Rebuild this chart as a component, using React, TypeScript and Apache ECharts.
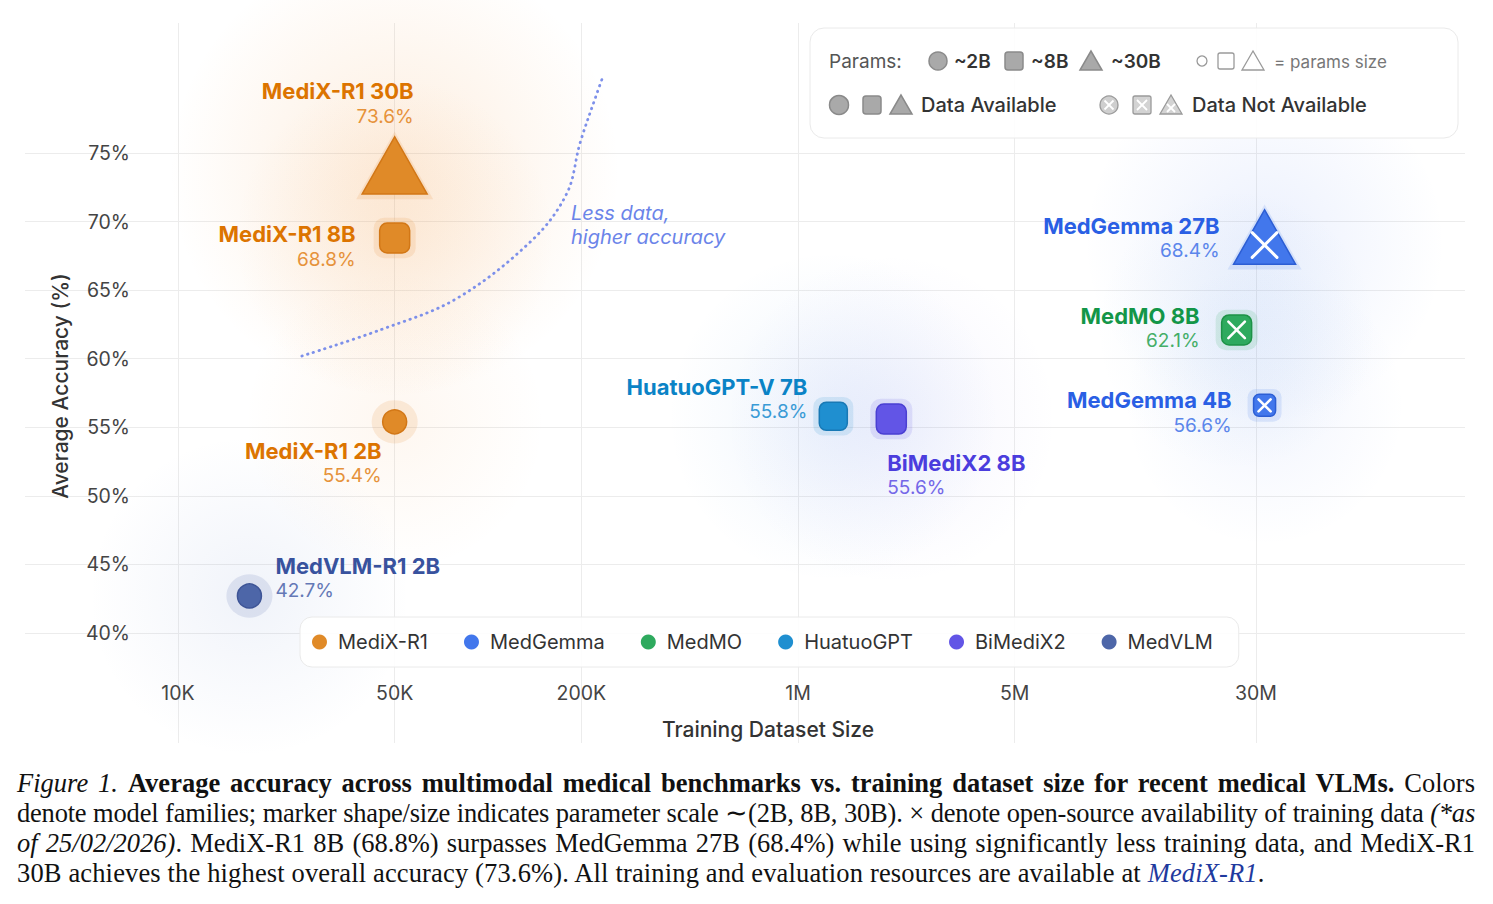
import React, { useEffect, useRef } from 'react';
import * as echarts from 'echarts';

const FONT = "Inter, 'Noto Sans', 'DejaVu Sans', sans-serif";

// ---- Families ----
const FAMILIES = ['MediX-R1', 'MedGemma', 'MedMO', 'HuatuoGPT', 'BiMediX2', 'MedVLM'];
const FAMILY_COLORS = ['#E08A28', '#4277EC', '#2EAA5E', '#1F8FD0', '#6255E6', '#4D66A8'];
const FAMILY_BORDER = ['#D27716', '#2C5ED4', '#1D9246', '#1879B5', '#4A3FD2', '#3D5496'];
const NAME_COLORS = ['#DC7400', '#2A5FE4', '#139648', '#0A83C6', '#4B3DDD', '#38529E'];
const VALUE_COLORS = ['#E6923A', '#5B86EB', '#44AE68', '#3A9BD6', '#7467E8', '#6478B6'];
const GLOW_RGB = ['242,150,60', '80,125,240', '80,150,215', '60,140,225', '110,100,235', '110,140,205'];

// ---- Models ----
const MODELS = ['MediX-R1 30B', 'MediX-R1 8B', 'MediX-R1 2B', 'MedVLM-R1 2B', 'HuatuoGPT-V 7B', 'BiMediX2 8B', 'MedGemma 27B', 'MedMO 8B', 'MedGemma 4B'];
const MODEL_FAMILY = [0, 0, 0, 5, 3, 4, 1, 2, 1];
const DATASET_SIZE = [50000, 50000, 50000, 17000, 1300000, 2000000, 32000000, 26000000, 32000000];
const ACCURACY = [73.6, 68.8, 55.4, 42.7, 55.8, 55.6, 68.4, 62.1, 56.6];
const PARAMS_B = [30, 8, 2, 2, 7, 8, 27, 8, 4];
const DATA_AVAILABLE = [true, true, true, true, true, true, false, false, false];

// ---- Axis ticks ----
const X_TICKS = [10000, 50000, 200000, 1000000, 5000000, 30000000];
const Y_TICKS = [40, 45, 50, 55, 60, 65, 70, 75];

// ---- "Less data, higher accuracy" guide curve ----
const CURVE_X = [25100, 44900, 79400, 139600, 180000, 198000, 225000, 236000];
const CURVE_Y = [60.2, 62.1, 64.4, 68.7, 72.1, 75.7, 79.4, 80.7];

// ---- label layout (style only) ----
const LABEL_LAYOUT = [
  { align: 'right', dx: 19, dy: -68.5 },
  { align: 'right', dx: -39, dy: 8.5 },
  { align: 'right', dx: -13, dy: 41.5 },
  { align: 'left', dx: 26, dy: -17.5 },
  { align: 'right', dx: -26, dy: -17 },
  { align: 'left', dx: -4, dy: 56 },
  { align: 'right', dx: -45, dy: -5.5 },
  { align: 'right', dx: -37, dy: -1.5 },
  { align: 'right', dx: -33, dy: 7.5 },
];
const GLOW_STYLE = [
  { size: 450, a: 0.17 },
  { size: 320, a: 0.1 },
  { size: 300, a: 0.075 },
  { size: 320, a: 0.1 },
  { size: 330, a: 0.09 },
  { size: 330, a: 0.075 },
  { size: 360, a: 0.11 },
  { size: 280, a: 0.075 },
  { size: 280, a: 0.075 },
];

function shapeOf(p: number) {
  if (p <= 3) return 'circle';
  if (p <= 12) return 'roundRect';
  return 'triangle';
}
function sizeOf(p: number): number[] {
  const s = shapeOf(p);
  if (s === 'circle') return [24, 24];
  if (s === 'roundRect') return [14 + 2 * p, 14 + 2 * p];
  const w = p + 35;
  return [w, w * 0.88];
}
function offsetOf(p: number) {
  const s = shapeOf(p);
  if (s === 'triangle') return [0, -sizeOf(p)[1] * 0.12];
  return [0, 0];
}

function radial(rgb: string, a: number) {
  return {
    type: 'radial', x: 0.5, y: 0.5, r: 0.5,
    colorStops: [
      { offset: 0, color: `rgba(${rgb},${a})` },
      { offset: 0.45, color: `rgba(${rgb},${a * 0.55})` },
      { offset: 1, color: `rgba(${rgb},0)` },
    ],
  };
}

function txt(text: string, x: number, y: number, size: number, fill: string, weight: any = 'normal') {
  return {
    type: 'text', x, y, z: 101,
    style: { text, fontSize: size, fill, fontWeight: weight, fontFamily: FONT, verticalAlign: 'middle', align: 'left' },
  };
}
function cross(cx: number, cy: number, h: number, color = '#ffffff', w = 1.8) {
  return [
    { type: 'line', z: 102, shape: { x1: cx - h, y1: cy - h, x2: cx + h, y2: cy + h }, style: { stroke: color, lineWidth: w } },
    { type: 'line', z: 102, shape: { x1: cx + h, y1: cy - h, x2: cx - h, y2: cy + h }, style: { stroke: color, lineWidth: w } },
  ];
}

function buildOption() {
  const idx = MODELS.map((_, i) => i);

  const glowSeries = {
    type: 'scatter', name: 'glow', silent: true, z: 1,
    itemStyle: { opacity: 1 },
    data: idx.map((i) => ({
      value: [DATASET_SIZE[i], ACCURACY[i]],
      symbol: 'circle',
      symbolSize: GLOW_STYLE[i].size,
      itemStyle: { color: radial(GLOW_RGB[MODEL_FAMILY[i]], GLOW_STYLE[i].a), opacity: 1 },
    })),
  };

  const haloSeries = {
    type: 'scatter', name: 'halo', silent: true, z: 2,
    data: idx.map((i) => {
      const s = sizeOf(PARAMS_B[i]);
      const shp = shapeOf(PARAMS_B[i]);
      const pad = shp === 'triangle' ? 12 : shp === 'circle' ? 22 : 12;
      return {
        value: [DATASET_SIZE[i], ACCURACY[i]],
        symbol: shp,
        symbolSize: [s[0] + pad, s[1] + pad * 0.88],
        symbolOffset: offsetOf(PARAMS_B[i]),
        itemStyle: { color: FAMILY_COLORS[MODEL_FAMILY[i]], opacity: 0.14 },
      };
    }),
  };

  const familySeries = FAMILIES.map((fam, f) => ({
    type: 'scatter', name: fam, z: 3,
    itemStyle: { color: FAMILY_COLORS[f], opacity: 1 },
    data: idx.filter((i) => MODEL_FAMILY[i] === f).map((i) => {
      const lay = LABEL_LAYOUT[i];
      const off = offsetOf(PARAMS_B[i]);
      return {
        value: [DATASET_SIZE[i], ACCURACY[i]],
        name: MODELS[i],
        symbol: shapeOf(PARAMS_B[i]),
        symbolSize: sizeOf(PARAMS_B[i]),
        symbolOffset: off,
        itemStyle: { color: FAMILY_COLORS[f], borderColor: FAMILY_BORDER[f], borderWidth: 1.5, opacity: 1 },
        label: {
          show: true,
          position: ['50%', '50%'],
          align: lay.align,
          verticalAlign: 'middle',
          color: NAME_COLORS[f],
          opacity: 1,
          offset: [lay.dx, lay.dy - off[1]],
          formatter: `{n|${MODELS[i]}}\n{v|${ACCURACY[i].toFixed(1)}%}`,
          rich: {
            n: { fontSize: 22, fontWeight: 'bold', color: NAME_COLORS[f], lineHeight: 25, fontFamily: FONT, align: lay.align },
            v: { fontSize: 19, color: VALUE_COLORS[f], lineHeight: 25, fontFamily: FONT, align: lay.align },
          },
        },
      };
    }),
  }));

  const crossSeries = {
    type: 'scatter', name: 'not-available', silent: true, z: 4,
    data: idx.filter((i) => !DATA_AVAILABLE[i]).map((i) => {
      const shp = shapeOf(PARAMS_B[i]);
      const s = sizeOf(PARAMS_B[i]);
      const cs = shp === 'triangle' ? s[0] * 0.4 : s[0] * 0.55;
      return {
        value: [DATASET_SIZE[i], ACCURACY[i]],
        symbol: 'path://M0 0L10 10M10 0L0 10',
        symbolSize: [cs, cs],
        symbolOffset: shp === 'triangle' ? [0, 1.5] : [0, 0],
        itemStyle: { color: 'rgba(0,0,0,0)', borderColor: '#ffffff', borderWidth: shp === 'triangle' ? 3 : 2.6, borderCap: 'round', opacity: 1 },
      };
    }),
  };

  const curveSeries = {
    type: 'line', name: 'guide', silent: true, z: 2,
    data: CURVE_X.map((x, i) => [x, CURVE_Y[i]]),
    smooth: 0.35, symbol: 'none',
    lineStyle: { color: '#7D90EA', width: 2.8, type: [0.5, 5.5], cap: 'round' },
  };

  const graphics: any[] = [
    { type: 'rect', z: 100, shape: { x: 810, y: 28, width: 648, height: 110, r: 14 }, style: { fill: 'rgba(255,255,255,0.9)', stroke: '#EAEAEA', lineWidth: 1 } },
    txt('Params:', 829, 61, 19, '#555'),
    { type: 'circle', z: 101, shape: { cx: 938, cy: 61, r: 9 }, style: { fill: '#A9A9A9', stroke: '#8A8A8A', lineWidth: 1.5 } },
    txt('~2B', 954, 61, 19, '#333', 600),
    { type: 'rect', z: 101, shape: { x: 1005, y: 52, width: 18, height: 18, r: 3 }, style: { fill: '#A9A9A9', stroke: '#8A8A8A', lineWidth: 1.5 } },
    txt('~8B', 1031, 61, 19, '#333', 600),
    { type: 'polygon', z: 101, shape: { points: [[1091, 51], [1080, 70], [1102, 70]] }, style: { fill: '#A9A9A9', stroke: '#8A8A8A', lineWidth: 1.5 } },
    txt('~30B', 1111, 61, 19, '#333', 600),
    { type: 'circle', z: 101, shape: { cx: 1202, cy: 61, r: 5 }, style: { fill: 'none', stroke: '#9A9A9A', lineWidth: 1.3 } },
    { type: 'rect', z: 101, shape: { x: 1218, y: 53, width: 16, height: 16, r: 2 }, style: { fill: 'none', stroke: '#9A9A9A', lineWidth: 1.3 } },
    { type: 'polygon', z: 101, shape: { points: [[1253, 51], [1242, 70], [1264, 70]] }, style: { fill: 'none', stroke: '#9A9A9A', lineWidth: 1.3 } },
    txt('= params size', 1274, 62, 17, '#777'),
    { type: 'circle', z: 101, shape: { cx: 839, cy: 105, r: 9.5 }, style: { fill: '#A9A9A9', stroke: '#8A8A8A', lineWidth: 1.5 } },
    { type: 'rect', z: 101, shape: { x: 863, y: 96, width: 18, height: 18, r: 3 }, style: { fill: '#A9A9A9', stroke: '#8A8A8A', lineWidth: 1.5 } },
    { type: 'polygon', z: 101, shape: { points: [[901, 95], [890, 114], [912, 114]] }, style: { fill: '#A9A9A9', stroke: '#8A8A8A', lineWidth: 1.5 } },
    txt('Data Available', 921, 105, 20, '#333', 500),
    { type: 'circle', z: 101, shape: { cx: 1109, cy: 105, r: 9 }, style: { fill: '#CFCFCF', stroke: '#9A9A9A', lineWidth: 1.3 } },
    ...cross(1109, 105, 4.5),
    { type: 'rect', z: 101, shape: { x: 1133, y: 96, width: 18, height: 18, r: 2 }, style: { fill: '#D3D3D3', stroke: '#9A9A9A', lineWidth: 1.3 } },
    ...cross(1142, 105, 5),
    { type: 'polygon', z: 101, shape: { points: [[1171, 95], [1160, 114], [1182, 114]] }, style: { fill: '#D3D3D3', stroke: '#9A9A9A', lineWidth: 1.3 } },
    ...cross(1171, 108, 4),
    txt('Data Not Available', 1192, 105, 20, '#333', 500),
    {
      type: 'text', x: 571, y: 213, z: 50,
      style: { text: 'Less data,', fontSize: 20, fontStyle: 'italic', fill: '#6B84E9', fontFamily: FONT, verticalAlign: 'middle', align: 'left' },
    },
    {
      type: 'text', x: 571, y: 237, z: 50,
      style: { text: 'higher accuracy', fontSize: 20, fontStyle: 'italic', fill: '#6B84E9', fontFamily: FONT, verticalAlign: 'middle', align: 'left' },
    },
    // axis titles
    {
      type: 'text', x: 768, y: 729, z: 50,
      style: { text: 'Training Dataset Size', fontSize: 21, fill: '#333', fontWeight: 500, fontFamily: FONT, verticalAlign: 'middle', align: 'center' },
    },
    {
      type: 'text', x: 60, y: 386, z: 50, rotation: Math.PI / 2,
      style: { text: 'Average Accuracy (%)', fontSize: 21, fill: '#333', fontWeight: 500, fontFamily: FONT, verticalAlign: 'middle', align: 'center' },
    },
  ];

  return {
    animation: false,
    backgroundColor: '#ffffff',
    textStyle: { fontFamily: FONT },
    grid: { left: 25, right: 28, top: 23, bottom: 161, containLabel: false, outerBoundsMode: 'none' },
    legend: {
      data: FAMILIES.map((name) => ({ name, icon: 'circle' })),
      left: 300, top: 617,
      padding: [15, 26, 15, 12],
      itemGap: 36, itemWidth: 15, itemHeight: 15,
      backgroundColor: 'rgba(255,255,255,0.9)', borderColor: '#EAEAEA', borderWidth: 1, borderRadius: 12,
      textStyle: { fontSize: 20, color: '#333', fontFamily: FONT, padding: [0, 0, 0, 6] },
      selectedMode: false,
      z: 20,
    },
    xAxis: {
      type: 'log', logBase: 10, min: 3210, max: 141800000,
      axisLine: { show: false },
      axisTick: { show: false, customValues: X_TICKS },
      axisLabel: {
        inside: true, margin: 40, customValues: X_TICKS, fontSize: 19.5, color: '#444', fontFamily: FONT,
        formatter: (v: number) => {
          const r = Math.round(v);
          return r >= 1000000 ? `${Math.round(r / 1000000)}M` : `${Math.round(r / 1000)}K`;
        },
      },
      splitLine: { show: true, lineStyle: { color: '#ECECEC', width: 1 } },
    },
    yAxis: {
      type: 'value', min: 31.98, max: 84.48,
      axisLine: { show: false },
      axisTick: { show: false, customValues: Y_TICKS },
      axisLabel: {
        inside: true, margin: 105, align: 'right', customValues: Y_TICKS, fontSize: 19.5, color: '#444', fontFamily: FONT,
        formatter: (v: number) => `${Math.round(v)}%`,
      },
      splitLine: { show: true, lineStyle: { color: '#ECECEC', width: 1 } },
    },
    graphic: graphics,
    series: [glowSeries, curveSeries, haloSeries, ...familySeries, crossSeries],
  };
}

export default function App() {
  const ref = useRef<HTMLDivElement>(null);
  useEffect(() => {
    if (!ref.current) return;
    const chart = echarts.init(ref.current, undefined, { renderer: 'svg' });
    chart.setOption(buildOption() as any);
    return () => chart.dispose();
  }, []);

  const cap: React.CSSProperties = {
    whiteSpace: 'nowrap', textAlign: 'justify', textAlignLast: 'justify' as any,
  };
  return (
    <div style={{ position: 'fixed', left: 0, top: 0, width: 1493, height: 904, background: '#fff', overflow: 'hidden' }}>
      <div ref={ref} style={{ position: 'absolute', left: 0, top: 0, width: 1493, height: 904 }} />
      <div style={{ position: 'absolute', left: 17, top: 768, width: 1458, fontFamily: "'Liberation Serif', 'Times New Roman', serif", fontSize: 26.5, lineHeight: '30px', color: '#111' }}>
        <div style={cap}><i>Figure 1.</i> <b>Average accuracy across multimodal medical benchmarks vs. training dataset size for recent medical VLMs.</b> Colors</div>
        <div style={{ ...cap, letterSpacing: '-0.2px' }}>denote model families; marker shape/size indicates parameter scale ∼(2B, 8B, 30B). × denote open-source availability of training data <i>(*as</i></div>
        <div style={cap}><i>of 25/02/2026)</i>. MediX-R1 8B (68.8%) surpasses MedGemma 27B (68.4%) while using significantly less training data, and MediX-R1</div>
        <div style={{ whiteSpace: 'nowrap', letterSpacing: '0.15px' }}>30B achieves the highest overall accuracy (73.6%). All training and evaluation resources are available at <i style={{ color: '#1F3A9E' }}>MediX-R1</i>.</div>
      </div>
    </div>
  );
}
